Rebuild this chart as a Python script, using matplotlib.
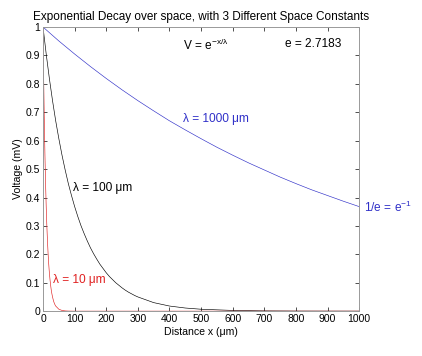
import matplotlib
matplotlib.use("Agg")
import matplotlib.pyplot as plt

plt.rcParams['font.family'] = ['Liberation Sans', 'DejaVu Sans']
plt.rcParams['mathtext.fontset'] = 'custom'
plt.rcParams['mathtext.rm'] = 'Liberation Sans'
plt.rcParams['mathtext.it'] = 'Liberation Sans'

# lambda = 1000 um, sampled every 50 um
x_1000 = [0, 50, 100, 150, 200, 250, 300, 350, 400, 450, 500,
          550, 600, 650, 700, 750, 800, 850, 900, 950, 1000]
v_1000 = [1.0, 0.951, 0.905, 0.861, 0.819, 0.779, 0.741, 0.705, 0.670, 0.638, 0.607,
          0.577, 0.549, 0.522, 0.497, 0.472, 0.449, 0.427, 0.407, 0.387, 0.368]

# lambda = 100 um
x_100 = [0, 10, 20, 30, 40, 50, 60, 70, 80, 90, 100, 110, 120, 130, 140, 150,
         160, 170, 180, 190, 200, 210, 220, 230, 240, 250, 260, 270, 280, 290, 300,
         350, 400, 450, 500, 600, 700, 800, 900, 1000]
v_100 = [1.0, 0.905, 0.819, 0.741, 0.670, 0.607, 0.549, 0.497, 0.449, 0.407, 0.368,
         0.333, 0.301, 0.273, 0.247, 0.223, 0.202, 0.183, 0.165, 0.150, 0.135,
         0.122, 0.111, 0.100, 0.091, 0.082, 0.074, 0.067, 0.061, 0.055, 0.050,
         0.030, 0.018, 0.011, 0.0067, 0.0025, 0.0009, 0.0003, 0.0001, 0.0]

# lambda = 10 um
x_10 = [0, 2, 4, 6, 8, 10, 12, 14, 16, 18, 20, 22, 24, 26, 28, 30, 32, 34, 36, 38, 40,
        50, 60, 70, 80, 100, 1000]
v_10 = [1.0, 0.819, 0.670, 0.549, 0.449, 0.368, 0.301, 0.247, 0.202, 0.165, 0.135,
        0.111, 0.091, 0.074, 0.061, 0.050, 0.041, 0.033, 0.027, 0.022, 0.018,
        0.0067, 0.0025, 0.0009, 0.0003, 0.0, 0.0]

x_ticks = [0, 100, 200, 300, 400, 500, 600, 700, 800, 900, 1000]
y_ticks = [0, 0.1, 0.2, 0.3, 0.4, 0.5, 0.6, 0.7, 0.8, 0.9, 1.0]
y_ticklabels = ['0', '0.1', '0.2', '0.3', '0.4', '0.5', '0.6', '0.7', '0.8', '0.9', '1']

BLUE = '#3030c8'
RED = '#e02020'

fig = plt.figure(figsize=(4.22, 3.56), dpi=100)
ax = fig.add_axes([0.102, 0.126, 0.749, 0.798])

ax.plot(x_1000, v_1000, color=BLUE, lw=0.45)
ax.plot(x_100, v_100, color='black', lw=0.45)
ax.plot(x_10, v_10, color=RED, lw=0.45)

ax.set_xlim(0, 1000)
ax.set_ylim(0, 1)
ax.set_xticks(x_ticks)
ax.set_xticklabels([str(t) for t in x_ticks])
ax.set_yticks(y_ticks)
ax.set_yticklabels(y_ticklabels)
ax.tick_params(direction='in', length=3, width=0.6, labelsize=7.5, colors='#333333',
               top=True, right=True, pad=2)
ax.tick_params(labelcolor='black')
for s in ax.spines.values():
    s.set_color('#999999')
    s.set_linewidth(0.7)

ax.set_title('Exponential Decay over space, with 3 Different Space Constants',
             fontsize=8.5, pad=5)
ax.set_xlabel('Distance x (\u03bcm)', fontsize=7.6, labelpad=2)
ax.set_ylabel('Voltage (mV)', fontsize=7.6, labelpad=2)

fs = 8.6
ax.text(443, 0.937, r'V = e$^{\mathregular{-x/\lambda}}$', fontsize=fs, va='center', ha='left')
ax.text(766, 0.94, 'e = 2.7183', fontsize=fs, va='center', ha='left')
ax.text(443, 0.676, '\u03bb = 1000 \u03bcm', fontsize=fs, va='center', ha='left', color=BLUE)
ax.text(95, 0.433, '\u03bb = 100 \u03bcm', fontsize=fs, va='center', ha='left', color='black')
ax.text(32, 0.109, '\u03bb = 10 \u03bcm', fontsize=fs, va='center', ha='left', color=RED)
ax.text(1016, 0.366, r'1/e = e$^{\mathregular{-1}}$', fontsize=fs, va='center', ha='left',
        color=BLUE, clip_on=False)

fig.savefig('out.png', dpi=100)
